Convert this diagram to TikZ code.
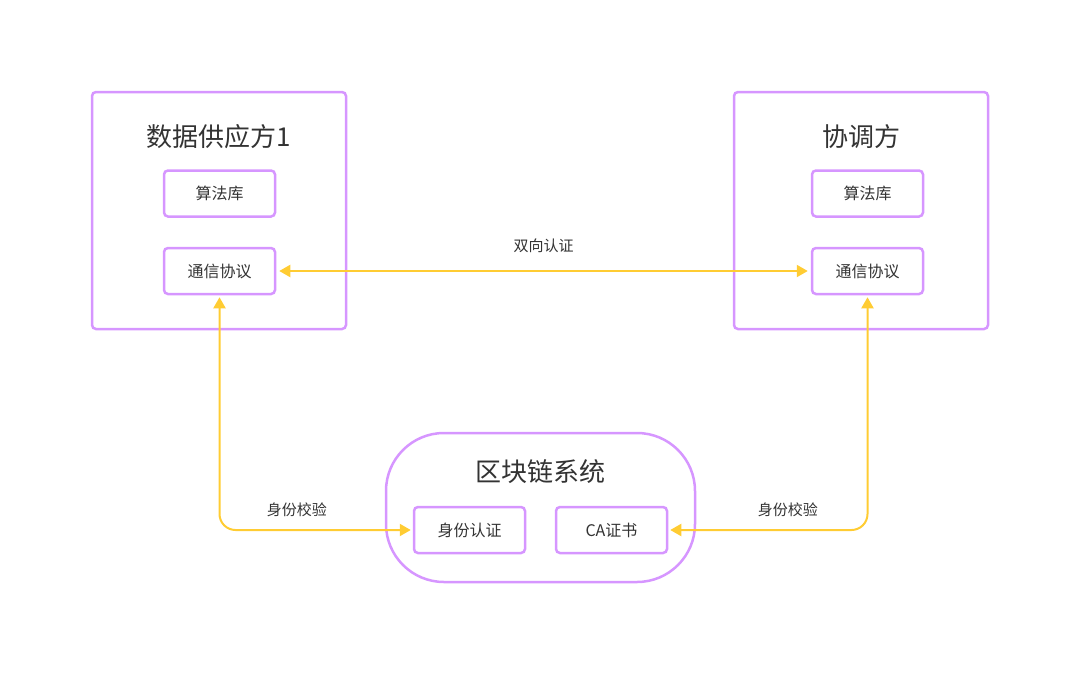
\documentclass[tikz,border=0pt]{standalone}
\usepackage{fontspec}
\setmainfont{Noto Sans CJK SC}
\usepackage{xcolor}
\usetikzlibrary{arrows.meta,positioning}
\definecolor{lilac}{RGB}{214,150,255}
\definecolor{amber}{RGB}{255,204,51}
\definecolor{ink}{RGB}{51,51,51}

\begin{document}
\begin{tikzpicture}[x=1pt,y=-1pt,>={Triangle[length=11pt,width=12pt]},text=ink,
  party/.style={draw=lilac,line width=2.5pt,rounded corners=4pt,minimum width=254pt,minimum height=237pt},
  chain/.style={draw=lilac,line width=2.5pt,rounded corners=58pt,minimum width=309pt,minimum height=149pt},
  box/.style={draw=lilac,line width=2.5pt,rounded corners=4pt,minimum width=111pt,minimum height=46pt,font=\fontsize{16}{19}\selectfont},
  title/.style={font=\fontsize{26}{31}\selectfont},
  link/.style={amber,line width=2pt,<->},
  lbl/.style={text=ink,font=\fontsize{15}{18}\selectfont}]
\useasboundingbox (0,0) rectangle (1080,675);
\node[party] (dp) at (219,210.5) {};
\node[party] (co) at (861,210.5) {};
\node[chain] (bc) at (540.5,507.5) {};
\node[title] (dpt) at (219,137) {数据供应方1};
\node[title] (cot) at (861,137) {协调方};
\node[title] (bct) at (540,472) {区块链系统};
\node[box] (alg1) at (219.5,193.5) {算法库};
\node[box] (com1) at (219.5,271) {通信协议};
\node[box] (alg2) at (867.5,193.5) {算法库};
\node[box] (com2) at (867.5,271) {通信协议};
\node[box] (auth) at (469.5,530) {身份认证};
\node[box] (ca) at (611.5,530) {CA证书};
\draw[link,shorten <=3pt,shorten >=3pt] (com1) -- node[lbl,above=14pt]{双向认证} (com2);
\draw[link,rounded corners=16pt,shorten <=2pt,shorten >=2pt] (com1.south) |- node[lbl,pos=.7,above=9pt]{身份校验} (auth.west);
\draw[link,rounded corners=16pt,shorten <=2pt,shorten >=2pt] (com2.south) |- node[lbl,pos=.7,above=9pt]{身份校验} (ca.east);
\end{tikzpicture}
\end{document}
